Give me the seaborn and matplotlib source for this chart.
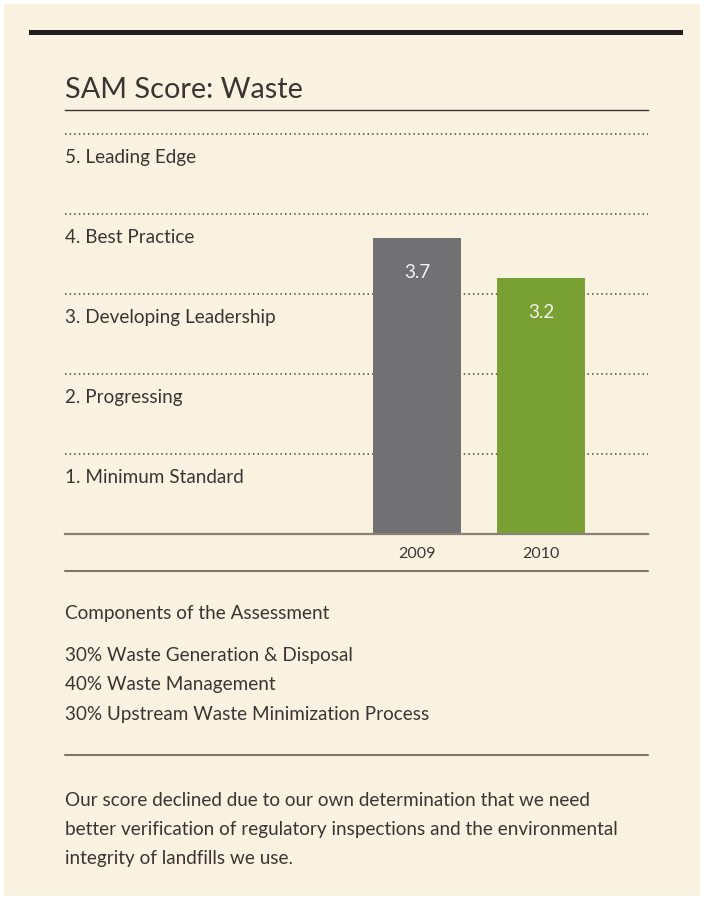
import matplotlib
matplotlib.use("Agg")
import matplotlib.pyplot as plt
import seaborn as sns
from matplotlib.patches import Rectangle
from matplotlib.lines import Line2D
import matplotlib.transforms as mtransforms

# data
years = ["2009", "2010"]
scores = [3.7, 3.2]
bar_colors = ["#717073", "#78a032"]
levels = [5, 4, 3, 2, 1]
level_names = ["5. Leading Edge", "4. Best Practice", "3. Developing Leadership",
               "2. Progressing", "1. Minimum Standard"]
components = ["30% Waste Generation & Disposal", "40% Waste Management",
              "30% Upstream Waste Minimization Process"]
note_lines = ["Our score declined due to our own determination that we need",
              "better verification of regulatory inspections and the environmental",
              "integrity of landfills we use."]

sns.set_theme(style="white")
plt.rcParams['font.family'] = ['Lato', 'DejaVu Sans']

W, H = 704, 899
cream = "#faf2e0"
txt = "#3a3533"
fs = 13.6

fig = plt.figure(figsize=(W / 100, H / 100), dpi=100, facecolor="white")


def fx(px):
    return px / W


def fy(py):
    return 1 - py / H


# cream panel + black bar on top
fig.patches.append(Rectangle((fx(4), fy(896)), fx(696), (892) / H, transform=fig.transFigure,
                             facecolor=cream, edgecolor="none", zorder=-10))
fig.patches.append(Rectangle((fx(29), fy(35)), fx(654), 5 / H, transform=fig.transFigure,
                             facecolor="#231f20", edgecolor="none", zorder=-9))

fig.text(fx(65), fy(98), "SAM Score: Waste", fontsize=20.8, color=txt, va="baseline")

ax = fig.add_axes([fx(65), fy(534), fx(583), 424 / H])
ax.set_facecolor("none")

sns.barplot(x=years, y=scores, hue=years, palette=bar_colors, legend=False,
            width=0.71, saturation=1, linewidth=0, ax=ax, zorder=3)

ax.set_ylim(0, 5.3)
ax.set_xlim(-2.839, 1.863)

trans = mtransforms.blended_transform_factory(ax.transAxes, ax.transData)
for lv, name in zip(levels, level_names):
    ax.axhline(lv, color="#4a4440", lw=1.1, ls=(0, (1, 2)), zorder=1)
    ax.text(0, lv - 0.36, name, transform=trans, fontsize=fs, color=txt, va="baseline")

for i, v in enumerate(scores):
    ax.text(i, v - 0.5, f"{v}", ha="center", va="baseline", color="#f4f2ec", fontsize=fs, zorder=4)

for side in ["left", "right"]:
    ax.spines[side].set_visible(False)
ax.spines["top"].set_color("#3a3533")
ax.spines["top"].set_linewidth(1.0)
ax.spines["bottom"].set_color("#8a8078")
ax.spines["bottom"].set_linewidth(1.6)
ax.spines["bottom"].set_zorder(5)
ax.set_yticks([])
ax.tick_params(axis="x", length=0, pad=9, labelsize=11.5, labelcolor="#3a3533")
ax.set_xlabel("")
ax.set_ylabel("")

# separators
for py in [571, 755]:
    fig.lines.append(Line2D([fx(65), fx(648)], [fy(py), fy(py)], transform=fig.transFigure,
                            color="#7f766e", lw=1.5))

fig.text(fx(65), fy(619), "Components of the Assessment", fontsize=fs, color=txt, va="baseline")
for py, line in zip([661, 690, 720], components):
    fig.text(fx(65), fy(py), line, fontsize=fs, color=txt, va="baseline")
for py, line in zip([806, 835, 864], note_lines):
    fig.text(fx(65), fy(py), line, fontsize=fs, color=txt, va="baseline")

fig.savefig("out.png", dpi=100, facecolor="white")
